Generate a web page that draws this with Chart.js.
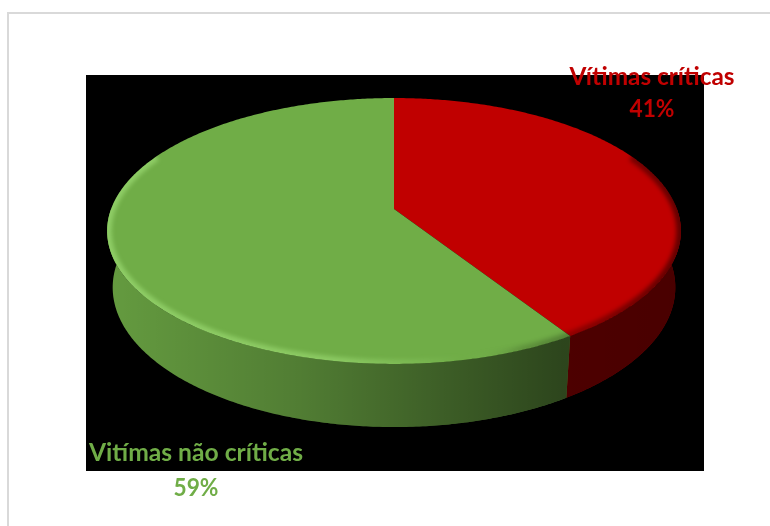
<!DOCTYPE html>
<html>
<head>
<meta charset="utf-8">
<script src="https://cdn.jsdelivr.net/npm/chart.js@4.4.0/dist/chart.umd.min.js"></script>
<style>
  html, body { margin: 0; padding: 0; background: #fff; }
  canvas { display: block; }
</style>
</head>
<body>
<canvas id="pie3d" width="770" height="526"></canvas>
<script>
const categories = ['Vítimas críticas', 'Vitímas não críticas'];
const shares = [41, 59];
const sliceColors = ['#C00000', '#70AD47'];

// camera used to tilt the flat pie into a thick disc
const view = { cx: 394, cy: 209, focal: 1522, dist: 5.38, tilt: 27.2 * Math.PI / 180, depth: 0.226 };

// where the two labels sit (centre x, baseline of name, baseline of percentage)
const labelSpots = [
    { x: 652, name: 85, pct: 117, w: 165 },
    { x: 196, name: 461, pct: 496, w: 214 }
];

// chart angle -> screen point; h = 0 is the top face, negative h goes down the wall
function project(angle, h) {
    const u = Math.cos(angle), w = Math.sin(angle);
    const s = Math.sin(view.tilt), c = Math.cos(view.tilt);
    const yc = h * c - w * s;
    const zc = view.dist - h * s - w * c;
    return { x: view.cx + view.focal * u / zc, y: view.cy - view.focal * yc / zc };
}

function arcPoints(a0, a1, h) {
    const n = Math.max(2, Math.ceil(Math.abs(a1 - a0) / 0.01));
    const pts = [];
    for (let i = 0; i <= n; i++) pts.push(project(a0 + (a1 - a0) * i / n, h));
    return pts;
}

function tracePath(ctx, pts, joined) {
    pts.forEach((p, i) => (i || joined) ? ctx.lineTo(p.x, p.y) : ctx.moveTo(p.x, p.y));
}

const pie3d = {
    id: 'pie3d',
    beforeDraw(chart) {
        const ctx = chart.ctx;
        const a = chart.chartArea;
        ctx.save();
        ctx.fillStyle = '#fff';
        ctx.fillRect(0, 0, chart.width, chart.height);
        ctx.strokeStyle = '#D9D9D9';
        ctx.lineWidth = 2;
        ctx.strokeRect(8, 13, chart.width, chart.height);
        ctx.fillStyle = '#000';
        ctx.fillRect(a.left, a.top, a.right - a.left, a.bottom - a.top);
        ctx.restore();
    },
    beforeDatasetsDraw(chart) {
        const ctx = chart.ctx;
        const arcs = chart.getDatasetMeta(0).data;
        ctx.save();

        // outer wall, only the half turned towards the viewer
        const shade = ctx.createLinearGradient(view.cx - 288, 0, view.cx + 290, 0);
        shade.addColorStop(0, 'rgba(0,0,0,0.1)');
        shade.addColorStop(0.335, 'rgba(0,0,0,0.28)');
        shade.addColorStop(0.6, 'rgba(0,0,0,0.47)');
        shade.addColorStop(0.79, 'rgba(0,0,0,0.6)');
        shade.addColorStop(1, 'rgba(0,0,0,0.62)');
        arcs.forEach(arc => {
            const a0 = Math.max(arc.startAngle, 0);
            const a1 = Math.min(arc.endAngle, Math.PI);
            if (a1 <= a0) return;
            ctx.beginPath();
            tracePath(ctx, arcPoints(a0, a1, 0).concat(arcPoints(a1, a0, -view.depth)));
            ctx.closePath();
            ctx.fillStyle = arc.options.backgroundColor;
            ctx.fill();
            ctx.fillStyle = shade;
            ctx.fill();
        });

        // top face
        arcs.forEach(arc => {
            ctx.beginPath();
            ctx.moveTo(view.cx, view.cy);
            tracePath(ctx, arcPoints(arc.startAngle, arc.endAngle, 0), true);
            ctx.closePath();
            ctx.fillStyle = arc.options.backgroundColor;
            ctx.fill();
        });

        // rounded rim: light on the left, dark on the right
        ctx.beginPath();
        tracePath(ctx, arcPoints(0, 2 * Math.PI, 0));
        ctx.closePath();
        ctx.clip();
        const rim = ctx.createLinearGradient(view.cx - 288, 0, view.cx + 290, 0);
        rim.addColorStop(0, 'rgba(190,255,150,0.4)');
        rim.addColorStop(0.4, 'rgba(190,255,150,0.35)');
        rim.addColorStop(0.62, 'rgba(190,255,150,0.0)');
        rim.addColorStop(0.72, 'rgba(0,0,0,0.15)');
        rim.addColorStop(1, 'rgba(0,0,0,0.5)');
        ctx.filter = 'blur(2px)';
        ctx.strokeStyle = rim;
        ctx.lineWidth = 9;
        ctx.beginPath();
        tracePath(ctx, arcPoints(-0.45, Math.PI + 0.45, 0));
        ctx.stroke();
        ctx.restore();
        return false;
    },
    afterDraw(chart) {
        const ctx = chart.ctx;
        ctx.save();
        ctx.font = 'bold 25px Lato';
        ctx.textAlign = 'center';
        ctx.textBaseline = 'alphabetic';
        labelSpots.forEach((spot, i) => {
            ctx.fillStyle = sliceColors[i];
            ctx.fillText(categories[i], spot.x, spot.name, spot.w);
            ctx.fillText(shares[i] + '%', spot.x, spot.pct, 45);
        });
        ctx.restore();
    }
};

new Chart(document.getElementById('pie3d'), {
    type: 'pie',
    data: {
        labels: categories,
        datasets: [{ data: shares, backgroundColor: sliceColors, borderWidth: 0 }]
    },
    options: {
        responsive: false,
        animation: false,
        layout: { padding: { left: 86, top: 75, right: 66, bottom: 55 } },
        plugins: { legend: { display: false }, tooltip: { enabled: false } }
    },
    plugins: [pie3d]
});
</script>
</body>
</html>
